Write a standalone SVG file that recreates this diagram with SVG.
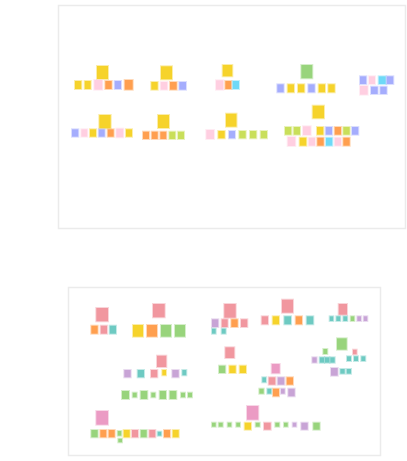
<svg xmlns="http://www.w3.org/2000/svg" width="407" height="461" viewBox="0 0 407 461">
<style>
rect{stroke-width:2;stroke-opacity:0.4}
.panel{fill:#fff;stroke:#ebebeb;stroke-width:1.5;stroke-opacity:1}
.y{fill:#f6d32b;stroke:#f6d32b}
.p{fill:#ffcfe1;stroke:#ffcfe1}
.o{fill:#ff9f4f;stroke:#ff9f4f}
.b{fill:#a5adfd;stroke:#a5adfd}
.c{fill:#6fd9f7;stroke:#6fd9f7}
.g{fill:#98d47c;stroke:#98d47c}
.l{fill:#c9df5a;stroke:#c9df5a}
.r{fill:#f1979f;stroke:#f1979f}
.t{fill:#6ecac2;stroke:#6ecac2}
.u{fill:#c8a4d6;stroke:#c8a4d6}
.m{fill:#eb9bc4;stroke:#eb9bc4}
</style>
<rect width="407" height="461" fill="#fff" stroke="none"/>
<rect class="panel" x="58.5" y="5.5" width="347" height="223"/>
<rect class="panel" x="68.5" y="287.5" width="312" height="168"/>

<g id="groupA">
<rect class="y" x="97" y="66" width="11" height="13"/>
<rect class="y" x="75" y="81" width="6.3" height="8"/>
<rect class="y" x="84.7" y="81" width="6" height="8"/>
<rect class="p" x="94.3" y="80" width="8" height="9.7"/>
<rect class="o" x="105.3" y="81" width="6.4" height="8"/>
<rect class="b" x="114.7" y="81" width="6.3" height="8"/>
<rect class="o" x="124.7" y="80" width="8" height="9.7"/>
</g>
<g id="groupB">
<rect class="y" x="161" y="66.3" width="11" height="13"/>
<rect class="y" x="151.3" y="82" width="6.4" height="7.7"/>
<rect class="p" x="160.7" y="82" width="6.6" height="7.7"/>
<rect class="o" x="170" y="82" width="6.7" height="7.7"/>
<rect class="b" x="179.3" y="82" width="6.7" height="7.7"/>
</g>
<g id="groupC">
<rect class="y" x="222.7" y="65" width="9.6" height="11.3"/>
<rect class="p" x="216" y="80.3" width="7.3" height="9.4"/>
<rect class="o" x="225.3" y="81" width="6" height="8"/>
<rect class="c" x="232.7" y="81" width="6.3" height="8"/>
</g>
<g id="groupD">
<rect class="g" x="301.3" y="65" width="11" height="13.3"/>
<rect class="b" x="277.3" y="84.3" width="6.4" height="8"/>
<rect class="y" x="287.7" y="84.3" width="6.3" height="8"/>
<rect class="y" x="298" y="84.3" width="6.3" height="8"/>
<rect class="b" x="308.3" y="84.3" width="6.4" height="8"/>
<rect class="y" x="318.7" y="84.3" width="6.3" height="8"/>
<rect class="y" x="328.3" y="84.3" width="6.4" height="8"/>
</g>
<g id="groupE">
<rect class="b" x="360" y="76.3" width="6.3" height="7.7"/>
<rect class="p" x="369" y="76.3" width="6" height="7.7"/>
<rect class="c" x="378.7" y="76.3" width="7" height="7.7"/>
<rect class="b" x="386.7" y="76.3" width="6.6" height="7.7"/>
<rect class="p" x="360" y="86" width="7.7" height="8.7"/>
<rect class="b" x="371" y="86.7" width="6.7" height="7.3"/>
<rect class="b" x="380.3" y="86.7" width="6.4" height="7.3"/>
</g>
<g id="groupG">
<rect class="y" x="99.3" y="115" width="11.4" height="13.3"/>
<rect class="b" x="72" y="129.3" width="6.3" height="7.4"/>
<rect class="p" x="81.3" y="129.3" width="6" height="7.4"/>
<rect class="y" x="90" y="129.3" width="6" height="7.4"/>
<rect class="b" x="98.7" y="129.3" width="6" height="7.4"/>
<rect class="o" x="107.7" y="129.3" width="6" height="7.4"/>
<rect class="p" x="116.3" y="128.7" width="7" height="8.6"/>
<rect class="y" x="126" y="129.3" width="6" height="7.4"/>
</g>
<g id="groupH">
<rect class="y" x="158" y="115" width="11" height="13"/>
<rect class="o" x="143" y="131.7" width="6" height="7.3"/>
<rect class="o" x="151.7" y="131.7" width="6" height="7.3"/>
<rect class="o" x="160.3" y="131.7" width="6" height="7.3"/>
<rect class="l" x="169.3" y="131.7" width="6" height="7.3"/>
<rect class="l" x="178" y="131.7" width="6" height="7.3"/>
</g>
<g id="groupI">
<rect class="y" x="226" y="113.7" width="10.5" height="13"/>
<rect class="p" x="206.3" y="130" width="7.7" height="9"/>
<rect class="y" x="218.3" y="131" width="6.4" height="7.3"/>
<rect class="b" x="229" y="131" width="6" height="7.3"/>
<rect class="l" x="239.3" y="131" width="6.4" height="7.3"/>
<rect class="l" x="250" y="131" width="6.3" height="7.3"/>
<rect class="l" x="260.7" y="131" width="6.3" height="7.3"/>
</g>
<g id="groupJ">
<rect class="y" x="312.7" y="105.7" width="11.3" height="12.6"/>
<rect class="l" x="285" y="127" width="6.3" height="7.7"/>
<rect class="l" x="293.7" y="127" width="6.3" height="7.7"/>
<rect class="p" x="303" y="126.3" width="7.7" height="8.7"/>
<rect class="y" x="317" y="127" width="6.3" height="7.7"/>
<rect class="b" x="325.7" y="127" width="6.3" height="7.7"/>
<rect class="o" x="334.7" y="127" width="6.3" height="7.7"/>
<rect class="l" x="343.3" y="127" width="6.4" height="7.7"/>
<rect class="b" x="352" y="127" width="6.3" height="7.7"/>
<rect class="p" x="287.7" y="137" width="7.6" height="9"/>
<rect class="y" x="299.7" y="137.7" width="6.6" height="8"/>
<rect class="p" x="308.7" y="137.7" width="6.3" height="8"/>
<rect class="o" x="317.3" y="137.7" width="6.4" height="8"/>
<rect class="c" x="326" y="137.7" width="6.3" height="8"/>
<rect class="p" x="334.7" y="137.7" width="6.3" height="8"/>
<rect class="o" x="343.3" y="137.7" width="6.4" height="8"/>
</g>

<g id="groupK">
<rect class="r" x="96.3" y="308" width="11.7" height="13.3"/>
<rect class="o" x="91.3" y="325.7" width="6.4" height="8"/>
<rect class="r" x="100.7" y="325.7" width="6.3" height="8"/>
<rect class="t" x="109.7" y="325.7" width="6.3" height="8"/>
</g>
<g id="groupL">
<rect class="r" x="153" y="304" width="11.7" height="13.3"/>
<rect class="y" x="133" y="325" width="10" height="11.7"/>
<rect class="o" x="147" y="325" width="10" height="11.7"/>
<rect class="g" x="161" y="325" width="10" height="11.7"/>
<rect class="g" x="175" y="325" width="10" height="11.7"/>
</g>
<g id="groupM">
<rect class="r" x="157" y="355.7" width="9.3" height="11.3"/>
<rect class="u" x="124.3" y="370" width="6.4" height="7.3"/>
<rect class="t" x="137.7" y="370" width="6.3" height="7.3"/>
<rect class="r" x="151" y="370" width="6.3" height="7.3"/>
<rect class="y" x="162.3" y="370" width="3.7" height="5.3"/>
<rect class="u" x="172.3" y="370" width="6.4" height="7.3"/>
<rect class="t" x="182.3" y="370" width="4" height="5.3"/>
</g>
<g id="groupN">
<rect class="g" x="122" y="391" width="7" height="8"/>
<rect class="g" x="132.7" y="392.7" width="4" height="4.6"/>
<rect class="g" x="140.7" y="391" width="6.6" height="8"/>
<rect class="g" x="151.3" y="392.7" width="4" height="4.6"/>
<rect class="g" x="159.7" y="391" width="6.3" height="8"/>
<rect class="g" x="169.7" y="391" width="6.6" height="8"/>
<rect class="g" x="181" y="392.7" width="4" height="4.6"/>
<rect class="g" x="188" y="392.7" width="4" height="4.6"/>
</g>
<g id="groupP">
<rect class="m" x="96.3" y="411" width="11.7" height="13.7"/>
<rect class="g" x="91.3" y="430" width="6.4" height="7.3"/>
<rect class="o" x="100.3" y="430" width="6" height="7.3"/>
<rect class="o" x="108.7" y="430" width="6" height="7.3"/>
<rect class="g" x="117.7" y="431" width="3.6" height="4.7"/>
<rect class="g" x="118.3" y="438.7" width="3.7" height="3.6"/>
<rect class="y" x="123.7" y="430" width="6" height="7.3"/>
<rect class="r" x="132" y="430" width="6" height="7.3"/>
<rect class="g" x="140.7" y="430" width="6" height="7.3"/>
<rect class="r" x="149.3" y="430" width="6" height="7.3"/>
<rect class="t" x="157.7" y="431.7" width="3.6" height="4"/>
<rect class="o" x="164" y="430" width="6" height="7.3"/>
<rect class="y" x="172.7" y="430" width="6" height="7.3"/>
</g>
<g id="groupQ">
<rect class="r" x="224.3" y="304" width="11.4" height="13.7"/>
<rect class="u" x="212" y="319.3" width="6.3" height="7.7"/>
<rect class="r" x="221.7" y="319.3" width="6" height="7.7"/>
<rect class="o" x="231.3" y="319.3" width="6.4" height="7.7"/>
<rect class="r" x="241" y="319.3" width="6.3" height="7.7"/>
<rect class="t" x="212" y="328.7" width="3.7" height="5"/>
<rect class="t" x="221.7" y="328.7" width="4" height="5"/>
</g>
<g id="groupR">
<rect class="r" x="282" y="299.7" width="11" height="13"/>
<rect class="r" x="261.7" y="316.3" width="6.3" height="8"/>
<rect class="y" x="272.7" y="316.3" width="6.3" height="8"/>
<rect class="t" x="284.3" y="316.3" width="6.7" height="8"/>
<rect class="o" x="295.7" y="316.3" width="6.3" height="8"/>
<rect class="t" x="306.7" y="316.3" width="6.6" height="8"/>
</g>
<g id="groupS">
<rect class="r" x="338.7" y="304" width="8.3" height="10.7"/>
<rect class="t" x="329.7" y="316.3" width="3.6" height="4.7"/>
<rect class="t" x="336.3" y="316.3" width="4" height="4.7"/>
<rect class="t" x="343.3" y="316.3" width="4" height="4.7"/>
<rect class="g" x="350.7" y="316.3" width="3.6" height="4.7"/>
<rect class="u" x="357.3" y="316.3" width="3.7" height="4.7"/>
<rect class="u" x="363.7" y="316.3" width="3.6" height="4.7"/>
</g>
<g id="groupT">
<rect class="r" x="225.3" y="347.3" width="9" height="10.7"/>
<rect class="g" x="219" y="365.7" width="6.3" height="7.3"/>
<rect class="y" x="229.3" y="365.7" width="6.4" height="7.3"/>
<rect class="y" x="239.7" y="365.7" width="6.3" height="7.3"/>
</g>
<g id="groupU">
<rect class="g" x="337" y="338.3" width="9.7" height="11.4"/>
<rect class="g" x="323.3" y="349" width="4" height="5"/>
<rect class="r" x="353" y="349.7" width="3.7" height="4.6"/>
<rect class="u" x="312.3" y="357.3" width="4.4" height="5.4"/>
<rect class="t" x="319.7" y="357.3" width="4.4" height="5.4"/>
<rect class="t" x="325" y="357.3" width="4.4" height="5.4"/>
<rect class="t" x="330.3" y="357.3" width="4.4" height="5.4"/>
<rect class="t" x="347" y="356.3" width="4" height="4.7"/>
<rect class="t" x="354" y="356.3" width="4" height="4.7"/>
<rect class="t" x="361.3" y="356.3" width="4" height="4.7"/>
<rect class="u" x="331" y="368" width="6.7" height="7.7"/>
<rect class="t" x="340.3" y="369" width="4.4" height="4.7"/>
<rect class="t" x="346.7" y="369" width="4.3" height="4.7"/>
</g>
<g id="groupV">
<rect class="m" x="271.7" y="364" width="8" height="9.3"/>
<rect class="t" x="262.3" y="377.3" width="3.7" height="5"/>
<rect class="r" x="268.7" y="377.3" width="6.6" height="7.4"/>
<rect class="u" x="277.7" y="377.3" width="6.6" height="7.4"/>
<rect class="o" x="286.7" y="377.3" width="6.3" height="7.4"/>
<rect class="g" x="259.3" y="388.7" width="4.4" height="5"/>
<rect class="t" x="267.3" y="388.7" width="4" height="5"/>
<rect class="o" x="273" y="388.7" width="6" height="7.6"/>
<rect class="u" x="281" y="388.7" width="3.7" height="5"/>
<rect class="u" x="288.3" y="388.7" width="6.4" height="7.6"/>
</g>
<g id="groupW">
<rect class="m" x="247" y="406" width="11.3" height="13.7"/>
<rect class="g" x="212" y="422.7" width="3.7" height="4"/>
<rect class="g" x="218.7" y="422.7" width="4" height="4"/>
<rect class="g" x="227.7" y="422.7" width="3.6" height="4"/>
<rect class="g" x="236.3" y="422.7" width="3.7" height="4"/>
<rect class="y" x="244.7" y="422.7" width="6.3" height="7"/>
<rect class="g" x="255.7" y="422.7" width="4" height="4"/>
<rect class="r" x="264" y="422.7" width="6.7" height="7"/>
<rect class="g" x="275.3" y="422.7" width="4" height="4"/>
<rect class="g" x="284" y="422.7" width="3.7" height="4"/>
<rect class="u" x="292.7" y="422.7" width="3.6" height="4"/>
<rect class="u" x="301.3" y="422.7" width="6.4" height="7"/>
<rect class="g" x="313.3" y="422.7" width="6.4" height="7"/>
</g>
</svg>
